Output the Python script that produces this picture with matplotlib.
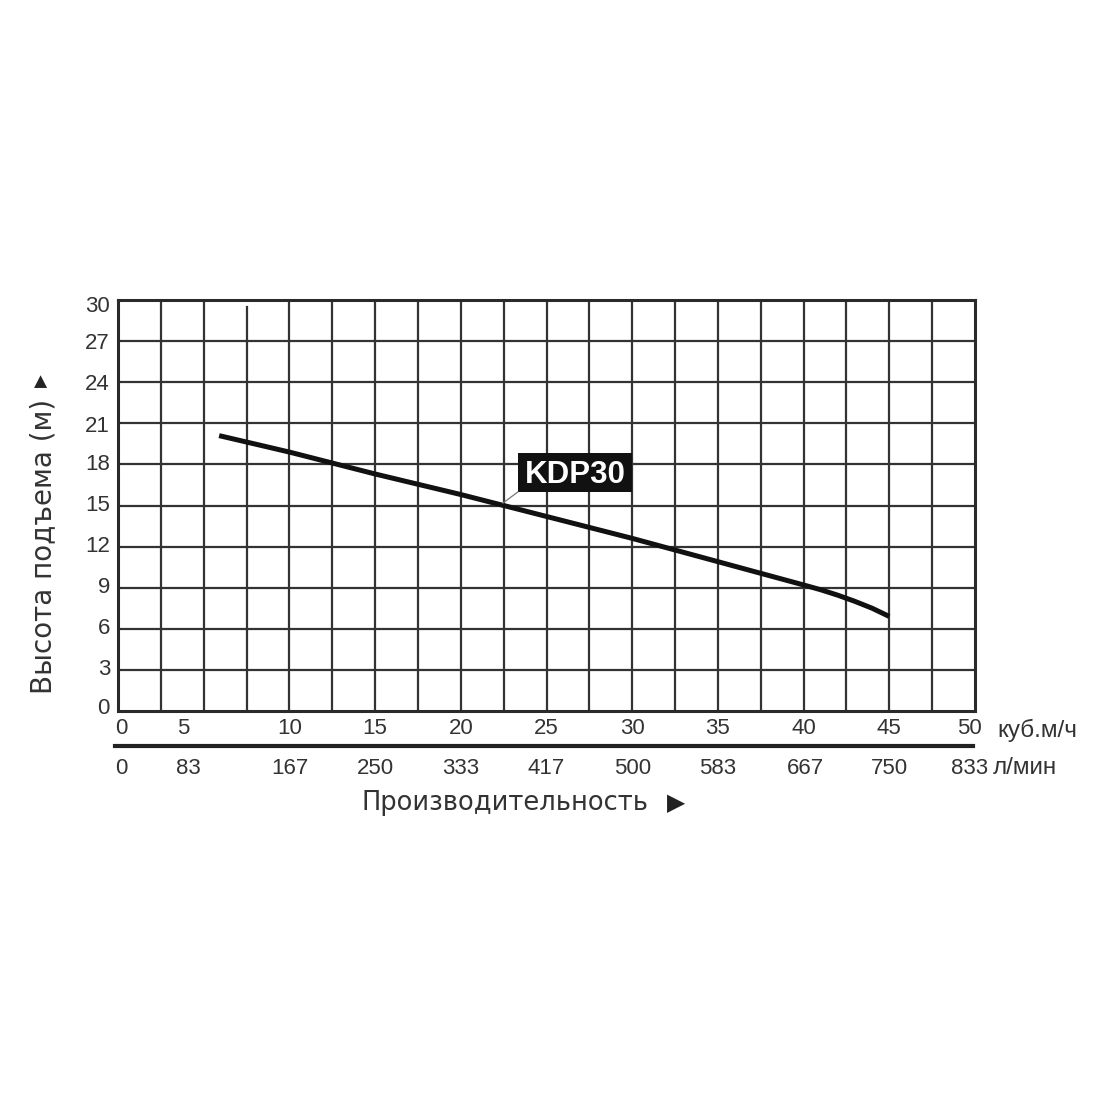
import numpy as np
import matplotlib.pyplot as plt
from matplotlib.lines import Line2D
from matplotlib.patches import Rectangle
from matplotlib.transforms import blended_transform_factory

plt.rcParams['font.family'] = ['Liberation Sans', 'DejaVu Sans']

# кривая насоса KDP30: подача (куб.м/ч) -> напор (м)
q = [5.9, 10, 15, 20, 22.5, 25, 30, 35, 40, 41, 42, 43, 44, 45]
h = [20.1, 18.9, 17.3, 15.8, 15.0, 14.2, 12.6, 10.9, 9.2, 8.85, 8.45, 8.0, 7.5, 6.9]

# подписи осей
x_top_labels = ['0', '5', '10', '15', '20', '25', '30', '35', '40', '45', '50']
x_top_pos = [0.2, 3.8, 10, 15, 20, 25, 30, 35, 40, 45, 49.7]
x_bot_labels = ['0', '83', '167', '250', '333', '417', '500', '583', '667', '750', '833']
x_bot_pos = [0.2, 4.1, 10, 15, 20, 25, 30, 35, 40.1, 45, 49.7]
y_labels = ['0', '3', '6', '9', '12', '15', '18', '21', '24', '27', '30']
y_pos = [0.2, 3, 6, 9, 12, 15, 18, 20.8, 23.8, 26.8, 29.5]

txt = '#333333'
grid_c = '#333333'

fig = plt.figure(figsize=(11, 11), dpi=100)
ax = fig.add_axes([118/1100, 1 - 711/1100, (975-118)/1100, (711-300)/1100])
ax.set_xlim(0, 50)
ax.set_ylim(0, 30)
ax.set_xticks([])
ax.set_yticks([])
for s in ax.spines.values():
    s.set_linewidth(2.2)
    s.set_color('#2a2a2a')

# сетка
for xv in np.arange(2.5, 50, 2.5):
    top = 29.5 if xv == 7.5 else 30
    ax.plot([xv, xv], [0, top], color=grid_c, lw=1.6, zorder=1)
for yv in np.arange(3, 30, 3):
    ax.plot([0, 50], [yv, yv], color=grid_c, lw=1.6, zorder=1)

ax.plot(q, h, color='#111111', lw=3.6, solid_capstyle='butt', zorder=3)

# метка KDP30
ax.add_patch(Rectangle((23.33, 15.99), 6.66, 2.84, fc='#111111', ec='none', zorder=4))
ax.plot([22.46, 23.33], [15.18, 15.99], color='#777777', lw=0.9, zorder=4)
ax.text(26.66, 16.64, 'KDP30', ha='center', va='baseline', fontsize=22.5,
        fontweight='bold', color='white', zorder=5)

tr = blended_transform_factory(ax.transData, fig.transFigure)
for lab, xp in zip(x_top_labels, x_top_pos):
    ax.text(xp, 1 - 729/1100, lab, transform=tr, ha='center', va='center',
            fontsize=16, color=txt)
for lab, xp in zip(x_bot_labels, x_bot_pos):
    ax.text(xp, 1 - 768/1100, lab, transform=tr, ha='center', va='center',
            fontsize=16, color=txt)

tr_y = blended_transform_factory(fig.transFigure, ax.transData)
for lab, yp in zip(y_labels, y_pos):
    ax.text(110/1100, yp, lab, transform=tr_y, ha='right', va='center',
            fontsize=16, color=txt)

fig.text(997/1100, 1 - 730/1100, 'куб.м/ч', ha='left', va='center', fontsize=17.5, color=txt)
fig.text(993/1100, 1 - 768/1100, 'л/мин', ha='left', va='center', fontsize=17.5, color=txt)

fig.add_artist(Line2D([115/1100, 973/1100], [1 - 746/1100, 1 - 746/1100],
                      lw=3, color='#222222'))

fig.text(505/1100, 1 - 803/1100, 'Производительность', ha='center', va='center',
         fontsize=18.5, color=txt, family='DejaVu Sans')
fig.text(676/1100, 1 - 803/1100, '▶', ha='center', va='center',
         fontsize=17, color='#222222', family='DejaVu Sans')
fig.text(43/1100, 1 - 546/1100, 'Высота подъема (м)', ha='center', va='center',
         rotation=90, fontsize=20, color=txt, family='DejaVu Sans')
fig.text(42/1100, 1 - 381/1100, '▶', ha='center', va='center', rotation=90,
         fontsize=12, color='#222222', family='DejaVu Sans')

fig.savefig('out.png', dpi=100, facecolor='white')
